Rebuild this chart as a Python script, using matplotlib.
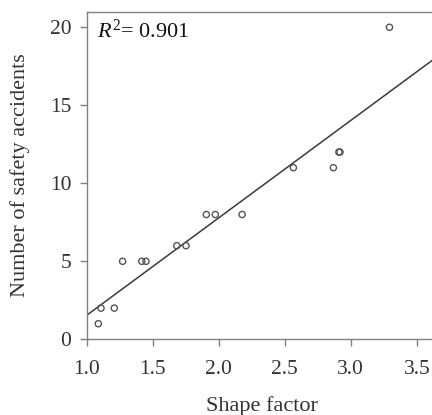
import matplotlib.pyplot as plt
import numpy as np

plt.rcParams['font.family'] = ['Liberation Serif', 'DejaVu Serif']
plt.rcParams['mathtext.fontset'] = 'custom'
plt.rcParams['mathtext.rm'] = 'Liberation Serif'
plt.rcParams['mathtext.it'] = 'Liberation Serif:italic'

# shape factor vs number of safety accidents
shape_factor = [1.088, 1.108, 1.209, 1.272, 1.417, 1.449, 1.682, 1.752,
                1.906, 1.974, 2.177, 2.565, 2.868, 2.910, 2.918, 3.293]
accidents = [1, 2, 2, 5, 5, 5, 6, 6, 8, 8, 8, 11, 11, 12, 12, 20]
r2_text = '0.901'
x_ticks = [1.0, 1.5, 2.0, 2.5, 3.0, 3.5]
y_ticks = [0, 5, 10, 15, 20]

fig = plt.figure(figsize=(4.32, 4.15), dpi=100)
ax = fig.add_axes([0.2007, 0.1824, 0.81, 0.7894])

# 线性拟合
k, b = np.polyfit(shape_factor, accidents, 1)
xx = np.array([0.9, 3.8])
ax.plot(xx, k * xx + b, color='#3a3a3a', lw=1.1, zorder=2)

ax.scatter(shape_factor, accidents, s=20, facecolors='none',
           edgecolors='#555555', linewidths=1.0, zorder=3)

ax.set_xlim(1.0, 3.65)
ax.set_ylim(0, 21)
ax.set_xticks(x_ticks)
ax.set_xticklabels(['%.1f' % v for v in x_ticks])
ax.set_yticks(y_ticks)

for s in ['left', 'bottom', 'top']:
    ax.spines[s].set_color('#808080')
    ax.spines[s].set_linewidth(1.0)
ax.spines['right'].set_visible(False)

ax.tick_params(axis='both', direction='out', length=5, width=1.0,
               color='#808080', labelsize=15.5, labelcolor='#333333')
ax.tick_params(axis='x', pad=10)
ax.tick_params(axis='y', pad=6)

ax.set_xlabel('Shape factor', fontsize=16, color='#333333', labelpad=12)
ax.set_ylabel('Number of safety accidents', fontsize=16, color='#333333',
              labelpad=14)

ax.text(0.03, 0.975, '$R^{2}$= ' + r2_text, transform=ax.transAxes,
        fontsize=16, color='#111111', va='top', ha='left')

fig.savefig('out.png', dpi=100)
